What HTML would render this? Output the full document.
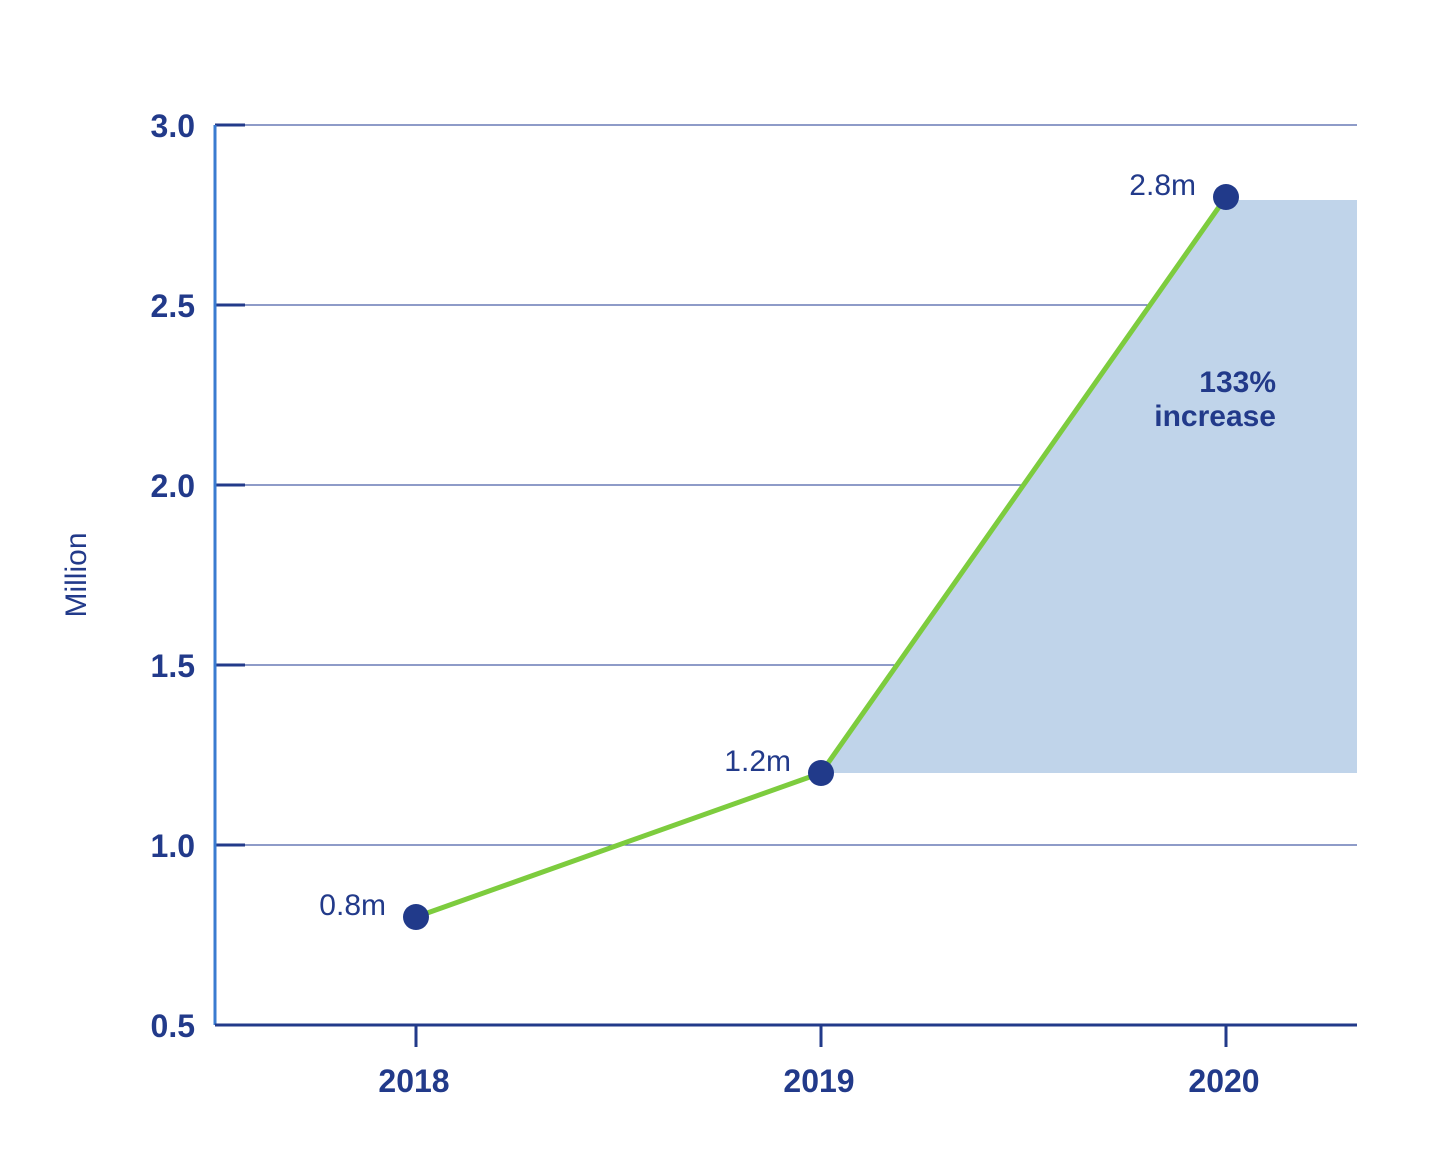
<!DOCTYPE html>
<html><head><meta charset="utf-8"><style>
html,body{margin:0;padding:0;background:#fff;}
svg{display:block;font-family:"Liberation Sans",sans-serif;}
</style></head><body>
<svg id="chart" width="1443" height="1170" viewBox="0 0 1443 1170">
<g id="grid"></g><g id="area"></g><g id="series"></g><g id="axes"></g><g id="labels"></g>
<text x="86" y="575" transform="rotate(-90 86 575)" text-anchor="middle" font-size="30" fill="#223a8a">Million</text>
<text x="1276" y="392" text-anchor="end" font-size="30" font-weight="bold" fill="#223a8a">133%</text>
<text x="1276" y="426" text-anchor="end" font-size="30" font-weight="bold" fill="#223a8a">increase</text>
</svg>
<script>
const categories = ["2018","2019","2020"];
const values = [0.8, 1.2, 2.8];
const valueLabels = ["0.8m","1.2m","2.8m"];
const yTicks = [0.5,1.0,1.5,2.0,2.5,3.0];
const yTickLabels = ["0.5","1.0","1.5","2.0","2.5","3.0"];
const NS="http://www.w3.org/2000/svg";
const x0=215,x1=1357,yMin=0.5,yMax=3.0,yTop=125,yBot=1025;
function yScale(v){return yBot-(v-yMin)/(yMax-yMin)*(yBot-yTop);}
function xScale(i){return 416+i*405;}
function mk(tag,attrs,parent){const e=document.createElementNS(NS,tag);for(const k in attrs)e.setAttribute(k,attrs[k]);document.getElementById(parent).appendChild(e);return e;}
const navy="#223a8a";
yTicks.forEach((t,i)=>{
  const y=yScale(t);
  if(i>0){const g=mk('line',{x1:x0,x2:x1,y1:y,y2:y,stroke:"#4a5fa8","stroke-width":1.2},'grid');
  
  }
  const tk=mk('line',{x1:x0,x2:x0+30,y1:y,y2:y,stroke:navy,"stroke-width":3},'axes');
  
  
  const tx=mk('text',{x:195,y:y+12,"text-anchor":"end","font-size":32,"font-weight":"bold",fill:navy},'labels');
  tx.textContent=yTickLabels[i];
  
  
});
const ya=mk('line',{x1:x0,x2:x0,y1:yTop,y2:yBot,stroke:"#3a7bd0","stroke-width":3},'axes');


const xa=mk('line',{x1:x0,x2:x1,y1:yBot,y2:yBot,stroke:navy,"stroke-width":3},'axes');


categories.forEach((c,i)=>{
  const x=xScale(i);
  const tk=mk('line',{x1:x,x2:x,y1:yBot,y2:yBot+22,stroke:navy,"stroke-width":3},'axes');
  
  
  const tx=mk('text',{x:x-2,y:1092,"text-anchor":"middle","font-size":32,"font-weight":"bold",fill:navy},'labels');
  tx.textContent=c;
  
  
});
// shaded increase region
const ax=xScale(1),ay=yScale(values[1]),bx=xScale(2),by=yScale(values[2]);
const topY=by+3;
const tx2=ax+(bx-ax)*(ay-topY)/(ay-by);
const area=mk('polygon',{points:`${ax},${ay} ${tx2},${topY} ${x1},${topY} ${x1},${ay}`,fill:"#c0d4ea"},'area');


const pts=values.map((v,i)=>xScale(i)+","+yScale(v)).join(" ");
const line=mk('polyline',{points:pts,fill:"none",stroke:"#7dcc3e","stroke-width":5},'series');


values.forEach((v,i)=>{
  const c=mk('circle',{cx:xScale(i),cy:yScale(v),r:13,fill:"#213a8a"},'series');
  
  
  const t=mk('text',{x:xScale(i)-30,y:yScale(v)-2,"text-anchor":"end","font-size":30,fill:navy},'labels');
  t.textContent=valueLabels[i];
  
  
});
</script>
</body></html>
